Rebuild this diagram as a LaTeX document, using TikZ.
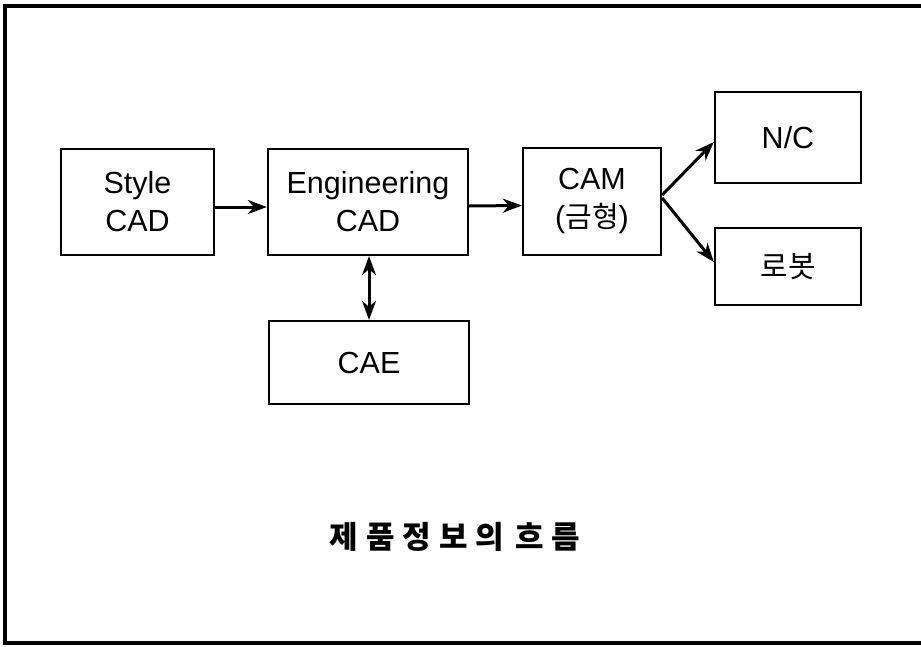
\documentclass[tikz,border=0pt]{standalone}
\usepackage{fontspec}
\setmainfont{Liberation Sans}
\newfontfamily\kr{Noto Sans CJK KR}
\usetikzlibrary{arrows.meta}

\begin{document}
\begin{tikzpicture}[x=1pt,y=-1pt,
  blk/.style={draw, line width=2.3pt, rectangle, inner sep=0pt, align=center,
    font=\fontsize{30.5}{38}\selectfont},
  flow/.style={line width=3pt, -{Stealth[length=19pt,width=14pt,inset=6pt]}},
  both/.style={line width=3pt, {Stealth[length=19pt,width=14pt,inset=6pt]}-{Stealth[length=19pt,width=14pt,inset=6pt]}},
  title/.style={font=\kr\bfseries\fontsize{31}{36}\selectfont, inner sep=0pt}
]
\useasboundingbox (0,0) rectangle (921,646);

% outer frame
\draw[line width=3.4pt] (5,6) rectangle (940,643);

% process blocks
\node[blk, minimum width=153pt, minimum height=106pt] (style) at (137.5,202) {Style\\CAD};
\node[blk, minimum width=200pt, minimum height=106pt] (eng)   at (368,202)   {Engineering\\CAD};
\node[blk, minimum width=200pt, minimum height=83pt]  (cae)   at (369,362.5) {CAE};
\node[blk, minimum width=138pt, minimum height=107pt] (cam)   at (592,201.5) {CAM\\({\kr\fontsize{29}{38}\selectfont 금형})};
\node[blk, minimum width=146pt, minimum height=91pt]  (nc)    at (788,137.5) {N/C};
\node[blk, minimum width=146pt, minimum height=77pt]  (robot) at (788,266.5) {{\kr\fontsize{30}{38}\selectfont 로봇}};

% connectors
\draw[flow] ([yshift=-5pt]style.east) -- ([yshift=-5pt]eng.west);
\draw[flow] ([yshift=-4pt]eng.east) -- ([yshift=-4pt]cam.west);
\draw[both] ([xshift=1pt]eng.south) -- ([xshift=0pt]cae.north);
\draw[flow] ([yshift=6.5pt]cam.east) -- ([yshift=-4.5pt]nc.west);
\draw[flow] ([yshift=3.5pt]cam.east) -- ([yshift=4.5pt]robot.west);

% caption
\node[title] (cap) at (455,537) {제\kern8pt 품\kern8pt 정\kern8pt 보\kern8pt 의\kern4pt{} 흐\kern8pt 름};
\end{tikzpicture}
\end{document}
